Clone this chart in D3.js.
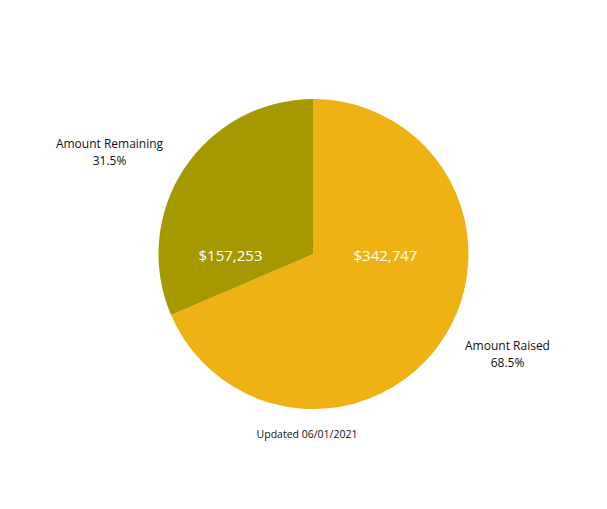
<!DOCTYPE html>
<html>
<head>
<meta charset="utf-8">
<script src="https://cdn.jsdelivr.net/npm/d3@7"></script>
<style>
  body { margin: 0; background: #fff; }
  text { font-family: "Open Sans", sans-serif; }
</style>
</head>
<body>
<script>
(function(){

    // chart data
    var categories = ["Amount Raised", "Amount Remaining"];
    var amounts = [342747, 157253];
    var colors = ["#EEB214", "#A69900"];
    var footnote = "Updated 06/01/2021";

    window.onload = drawChart;

    function drawChart(){
        var width = 607,
            height = 509,
            cx = 313.5,
            cy = 254,
            radius = 155;

        var svg = d3.select("body")
            .append("svg")
            .attr("width", width)
            .attr("height", height);

        var total = d3.sum(amounts);
        var data = categories.map(function(c, i){
            return { name: c, value: amounts[i], color: colors[i] };
        });

        var pie = d3.pie()
            .sort(null)
            .value(function(d){ return d.value; });

        var arc = d3.arc()
            .innerRadius(0)
            .outerRadius(radius);

        var g = svg.append("g")
            .attr("transform", "translate(" + cx + "," + cy + ")");

        var arcs = pie(data);

        g.selectAll(".slice")
            .data(arcs)
            .enter()
            .append("path")
            .attr("class", "slice")
            .attr("d", arc)
            .style("fill", function(d){ return d.data.color; });

        var money = d3.format("$,");
        var pct = d3.format(".1%");

        // value labels inside the slices, on the centre line
        var innerX = [72, -83];
        g.selectAll(".valueLabel")
            .data(arcs)
            .enter()
            .append("text")
            .attr("class", "valueLabel")
            .attr("x", function(d, i){ return innerX[i]; })
            .attr("y", 7)
            .attr("text-anchor", "middle")
            .style("fill", "#fff")
            .style("font-size", "15px")
            .text(function(d){ return money(d.data.value); });

        // outside labels
        var outerPos = [[194, 96], [-204, -106]];
        var labels = g.selectAll(".outLabel")
            .data(arcs)
            .enter()
            .append("text")
            .attr("class", "outLabel")
            .attr("text-anchor", "middle")
            .style("fill", "#111")
            .style("font-size", "12px")
            .attr("transform", function(d, i){
                return "translate(" + outerPos[i][0] + "," + outerPos[i][1] + ")";
            });

        labels.append("tspan")
            .attr("x", 0)
            .attr("y", 0)
            .text(function(d){ return d.data.name; });

        labels.append("tspan")
            .attr("x", 0)
            .attr("y", 16.5)
            .text(function(d){ return pct(d.data.value / total); });

        svg.append("text")
            .attr("x", 307)
            .attr("y", 438)
            .attr("text-anchor", "middle")
            .style("fill", "#111")
            .style("font-size", "10.5px")
            .text(footnote);
    }

})();
</script>
</body>
</html>
